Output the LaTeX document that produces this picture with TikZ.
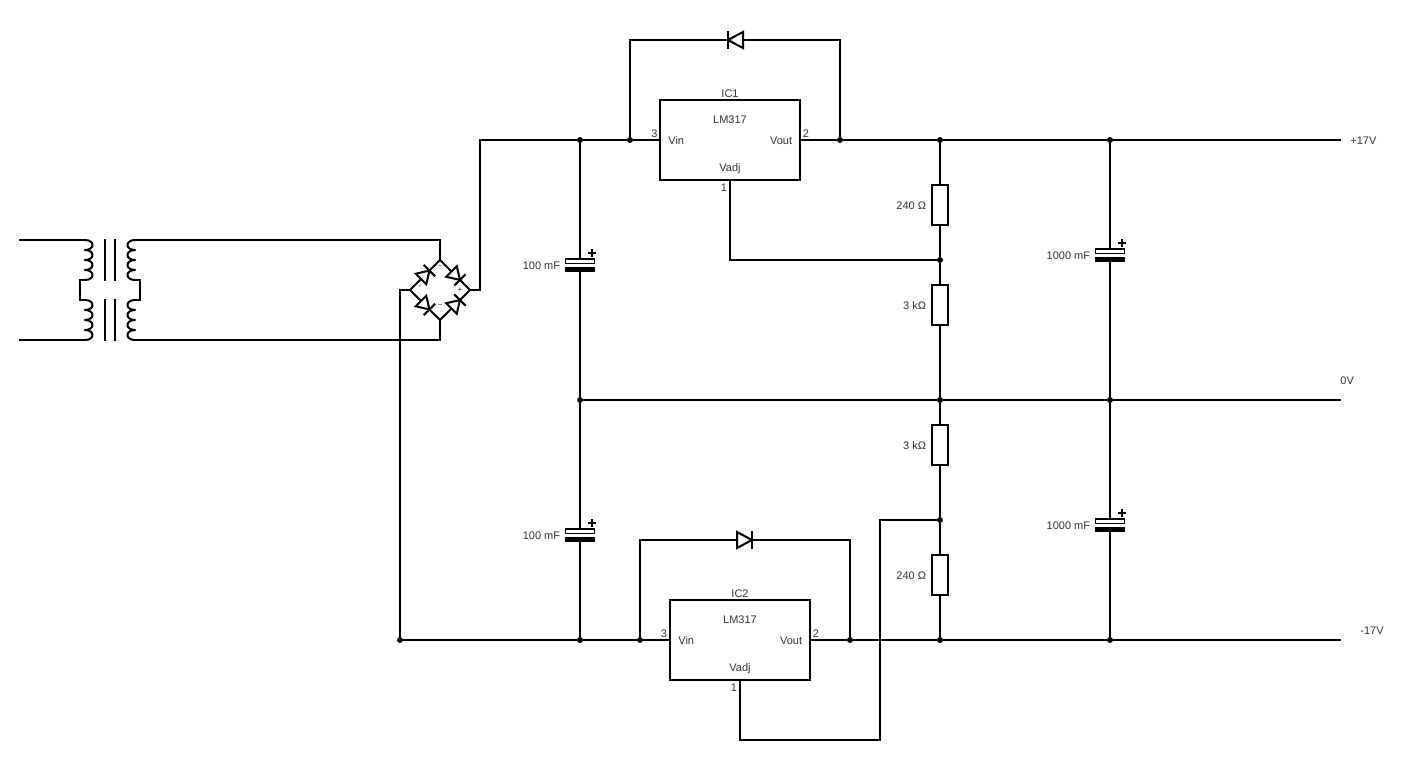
\documentclass[tikz,border=0pt]{standalone}
\usepackage{fontspec}
\setmainfont{Liberation Sans}
\usepackage{tikz}
\usetikzlibrary{positioning}
\definecolor{labelgray}{HTML}{333333}
\tikzset{
    %Define style for wires and junctions
    wire/.style={draw=black, line width=2pt},
    junction/.style={
           circle,
           fill=black,
           inner sep=0pt,
           minimum size=6pt},
    %Define style for boxes
    icbox/.style={
           rectangle,
           draw=black, line width=2pt,
           minimum width=140pt,
           minimum height=80pt},
    resbox/.style={
           rectangle,
           draw=black, line width=2pt, fill=white,
           inner sep=0pt,
           minimum width=16pt,
           minimum height=40pt},
    plateup/.style={
           rectangle,
           draw=black, line width=1.5pt, fill=white,
           inner sep=0pt,
           outer sep=0pt,
           minimum width=29pt,
           minimum height=4.5pt},
    platedown/.style={
           rectangle,
           fill=black,
           inner sep=0pt,
           outer sep=0pt,
           minimum width=30pt,
           minimum height=5.5pt},
    lbl/.style={text=labelgray, font=\fontsize{11}{13}\selectfont, inner sep=0pt, yshift=-1pt},
    lble/.style={lbl, anchor=east, xshift=0.5pt},
    lblw/.style={lbl, anchor=west},
    tinylbl/.style={text=labelgray, font=\fontsize{8}{9}\selectfont, inner sep=0pt},
    %Electrolytic capacitor
    elcap/.pic={
        \node[plateup] (-p) at (0,-4) {};
        \node[platedown] (-n) at (0,4.5) {};
        \draw[line width=2pt] (8,-12) -- (16,-12) (12,-16) -- (12,-8);
    },
    %Diode pointing along +x
    diode/.pic={
        \coordinate (-a) at (-7.5,0);
        \coordinate (-c) at (7.5,0);
        \draw[wire, fill=white] (-7.5,-8) -- (7.5,0) -- (-7.5,8) -- cycle;
        \draw[wire] (7.5,-9) -- (7.5,9);
    },
    %Smaller diode of the bridge
    bridgediode/.pic={
        \draw[wire, fill=white] (-5,-7.5) -- (7,0) -- (-5,7.5) -- cycle;
        \draw[wire] (7,-8) -- (7,8);
    },
    %One winding, bulging towards +x
    coil/.pic={
        \coordinate (-a) at (0,0);
        \coordinate (-b) at (0,40);
        \draw[wire, line join=round] (0,0) .. controls (10,0) and (10,10) .. (0,10)
              .. controls (10,10) and (10,20) .. (0,20)
              .. controls (10,20) and (10,30) .. (0,30)
              .. controls (10,30) and (10,40) .. (0,40);
    }
}
\begin{document}
\begin{tikzpicture}[x=1pt,y=-1pt,thick]
\useasboundingbox (0,0) rectangle (1420,760);

 %transformer
\pic (W1) at (85,240) {coil};
\pic (W2) at (85,300) {coil};
\pic[xscale=-1] (W3) at (135,240) {coil};
\pic[xscale=-1] (W4) at (135,300) {coil};
\coordinate (in1) at (19,240);
\coordinate (in2) at (19,340);
\draw[wire] (in1) -- (W1-a);
\draw[wire] (in2) -- (W2-b);
\draw[wire] (W1-b) -- (80,280) -- (80,300) -- (W2-a);
\draw[wire] (W3-b) -- (140,280) -- (140,300) -- (W4-a);
\draw[wire] (105,239) -- (105,281) (115,239) -- (115,281);
\draw[wire] (105,299) -- (105,341) (115,299) -- (115,341);

 %bridge
\coordinate (bt) at (440,260);
\coordinate (br) at (470,290);
\coordinate (bb) at (440,320);
\coordinate (bl) at (410,290);
\draw[wire] (bt) -- (br) -- (bb) -- (bl) -- cycle;
\pic[rotate=45] at (424.5,275.5) {bridgediode};
\pic[rotate=-45] at (455,275) {bridgediode};
\pic[rotate=-45] at (424.5,304.5) {bridgediode};
\pic[rotate=45] at (455,305) {bridgediode};
\node[tinylbl] (bs1) at (440,267) {\textasciitilde};
\node[tinylbl] (bs2) at (440,306) {\textasciitilde};
\node[tinylbl] (bs3) at (460,290) {+};
\node[tinylbl] (bs4) at (420,287) {-};

 %regulators
\node[icbox] (IC1) at (730,140) {};
\node[icbox] (IC2) at (740,640) {};

 %junctions
\node[junction] (j1) at (580,140) {};
\node[junction] (j2) at (630,140) {};
\node[junction] (j3) at (840,140) {};
\node[junction] (j4) at (940,140) {};
\node[junction] (j5) at (1110,140) {};
\node[junction] (j6) at (940,260) {};
\node[junction] (j7) at (580,400) {};
\node[junction] (j8) at (940,400) {};
\node[junction] (j9) at (1110,400) {};
\node[junction] (j10) at (940,520) {};
\node[junction] (j11) at (400,640) {};
\node[junction] (j12) at (580,640) {};
\node[junction] (j13) at (640,640) {};
\node[junction] (j14) at (850,640) {};
\node[junction] (j15) at (940,640) {};
\node[junction] (j16) at (1110,640) {};

 %rail ends
\coordinate (p17) at (1341,140);
\coordinate (gnd) at (1341,400);
\coordinate (m17) at (1341,640);

 %resistors
\node[resbox] (R1) at (940,205) {};
\node[resbox] (R2) at (940,305) {};
\node[resbox] (R3) at (940,445) {};
\node[resbox] (R4) at (940,575) {};

 %capacitors
\pic (C1) at (580,265) {elcap};
\pic (C2) at (580,535) {elcap};
\pic (C3) at (1110,255) {elcap};
\pic (C4) at (1110,525) {elcap};

 %diodes
\pic[rotate=180] (D1) at (735.5,40) {diode};
\pic (D2) at (744.5,540) {diode};

 %wires
\draw[wire] (W3-a) -- (440,240) -- (bt);
\draw[wire] (W4-b) -- (440,340) -- (bb);
\draw[wire] (br) -- (480,290) -- (480,140) -- (j1);
\draw[wire] (bl) -- (400,290) -- (j11);
\draw[wire] (IC1.south) -- (730,260) -- (j6);
\draw[wire] (IC2.south) -- (740,740) -- (880,740) -- (880,520) -- (j10);
\draw[wire] (j2) -- (630,40) -- (D1-c);
\draw[wire] (D1-a) -- (840,40) -- (j3);
\draw[wire] (j13) -- (640,540) -- (D2-a);
\draw[wire] (D2-c) -- (850,540) -- (j14);
 \path[wire]
 	(j1) edge (j2)
 	(j2) edge (IC1.west)
 	(IC1.east) edge (j3)
 	(j3) edge (j4)
 	(j4) edge (j5)
 	(j5) edge (p17)
 	(j11) edge (j12)
 	(j12) edge (j13)
 	(j13) edge (IC2.west)
 	(IC2.east) edge (j14)
 	(j14) edge (j15)
 	(j15) edge (j16)
 	(j16) edge (m17)
 	(j7) edge (j8)
 	(j8) edge (j9)
 	(j9) edge (gnd)
 	(j1) edge (C1-p)
 	(C1-n) edge (j7)
 	(j7) edge (C2-p)
 	(C2-n) edge (j12)
 	(j5) edge (C3-p)
 	(C3-n) edge (j9)
 	(j9) edge (C4-p)
 	(C4-n) edge (j16)
 	(j4) edge (R1)
 	(R1) edge (j6)
 	(j6) edge (R2)
 	(R2) edge (j8)
 	(j8) edge (R3)
 	(R3) edge (j10)
 	(j10) edge (R4)
 	(R4) edge (j15);

 %labels
\node[lbl] (t1) at (730,93) {IC1};
\node[lbl] (t2) at (730,119) {LM317};
\node[lblw] (t3) at (668,140) {Vin};
\node[lble] (t4) at (792,140) {Vout};
\node[lbl] (t5) at (730,168) {Vadj};
\node[lbl] (t6) at (654.5,133) {3};
\node[lbl] (t7) at (806,133) {2};
\node[lbl] (t8) at (724,187) {1};
\node[lbl] (t9) at (740,593) {IC2};
\node[lbl] (t10) at (740,619) {LM317};
\node[lblw] (t11) at (678,640) {Vin};
\node[lble] (t12) at (802,640) {Vout};
\node[lbl] (t13) at (740,668) {Vadj};
\node[lbl] (t14) at (664,633) {3};
\node[lbl] (t15) at (816,633) {2};
\node[lbl] (t16) at (734,687) {1};
\node[lble] (t17) at (560,265) {100 mF};
\node[lble] (t18) at (560,535) {100 mF};
\node[lble] (t19) at (1090,255) {1000 mF};
\node[lble] (t20) at (1090,525) {1000 mF};
\node[lble] (t21) at (926,205) {240 Ω};
\node[lble] (t22) at (926,305) {3 kΩ};
\node[lble] (t23) at (926,445) {3 kΩ};
\node[lble] (t24) at (926,575) {240 Ω};
\node[lblw] (t25) at (1350,140) {+17V};
\node[lblw] (t26) at (1340,380) {0V};
\node[lblw] (t27) at (1360,630) {-17V};

\end{tikzpicture}
\end{document}
